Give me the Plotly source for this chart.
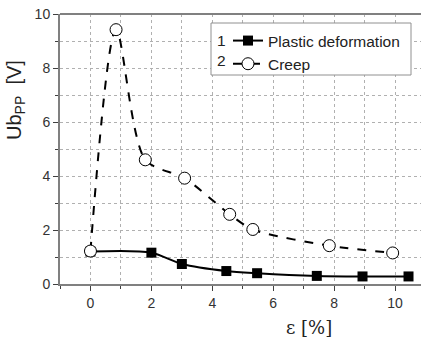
import plotly.graph_objects as go

# Data
plastic_x = [0, 2, 3, 4.46, 5.47, 7.43, 8.93, 10.44]
plastic_y = [1.2, 1.16, 0.74, 0.48, 0.4, 0.3, 0.28, 0.28]
creep_x = [0, 0.84, 1.8, 3.09, 4.57, 5.33, 7.84, 9.92]
creep_y = [1.22, 9.42, 4.6, 3.92, 2.58, 2.02, 1.42, 1.15]
x_ticks = [0, 2, 4, 6, 8, 10]
y_ticks = [0, 2, 4, 6, 8, 10]
legend_nums = ["1", "2"]

FONT = "Liberation Sans"
SERIF = "DejaVu Serif"
AX = "#808080"
GRID = "#b0b0b0"

L, T, B = 60, 14, 57
W, H = 421, 341
PW, PH = W - L, H - T - B


def px(xp):
    return (xp - L) / PW


def py(yp):
    return (H - B - yp) / PH


fig = go.Figure()
fig.add_trace(go.Scatter(
    x=plastic_x, y=plastic_y, mode="lines+markers", name="Plastic deformation",
    line=dict(color="black", width=2, shape="spline", smoothing=0.8),
    marker=dict(symbol="square", size=10, color="black"),
))
fig.add_trace(go.Scatter(
    x=creep_x, y=creep_y, mode="lines+markers", name="Creep",
    line=dict(color="black", width=2, dash="dash", shape="spline", smoothing=0.8),
    marker=dict(symbol="circle", size=12, color="white", line=dict(color="black", width=1)),
))

axis_common = dict(
    showline=True, linecolor=AX, linewidth=2, mirror=False,
    ticks="outside", ticklen=5, tickcolor="#404040", tickwidth=1,
    showgrid=True, gridcolor=GRID, griddash="dot", gridwidth=1,
    zeroline=False,
    tickfont=dict(family=FONT, size=14, color="#333333"),
)

fig.update_xaxes(
    range=[-1, 10.85], tickvals=x_ticks,
    minor=dict(dtick=1, tick0=0, ticks="outside", ticklen=3, tickcolor="#404040",
               showgrid=True, gridcolor=GRID, griddash="dot"),
    **axis_common,
)
fig.update_yaxes(
    range=[0, 10], tickvals=y_ticks,
    minor=dict(dtick=1, tick0=0, ticks="outside", ticklen=3, tickcolor="#404040",
               showgrid=True, gridcolor=GRID, griddash="dot"),
    **axis_common,
)

# axis titles
fig.add_annotation(text="Ub<sub>PP</sub>  [V]", xref="paper", yref="paper",
                   x=px(15), y=py(100), textangle=-90, showarrow=False,
                   xanchor="center", yanchor="middle",
                   font=dict(family=FONT, size=20, color="#222222"))
fig.add_annotation(text="ε [%]", xref="paper", yref="paper",
                   x=px(309), y=py(327), showarrow=False,
                   xanchor="center", yanchor="middle",
                   font=dict(family=SERIF, size=18, color="#222222"))

# top border
fig.add_shape(type="line", xref="paper", yref="paper", x0=0, x1=1, y0=1, y1=1,
              line=dict(color=AX, width=2))
# legend box
fig.add_shape(type="rect", xref="paper", yref="paper",
              x0=px(211), x1=px(411), y0=py(75), y1=py(23),
              line=dict(color="#909090", width=1), fillcolor="white", layer="above")
for i, n in enumerate(legend_nums):
    fig.add_annotation(text=n, xref="paper", yref="paper",
                       x=px(221), y=py(40 + 20 * i),
                       showarrow=False, xanchor="center", yanchor="middle",
                       font=dict(family=FONT, size=15.5, color="#222222"))

fig.update_layout(
    width=W, height=H,
    margin=dict(l=L, r=0, t=T, b=B),
    plot_bgcolor="white", paper_bgcolor="white",
    font=dict(family=FONT, size=14, color="#222222"),
    showlegend=True,
    legend=dict(x=px(228), y=py(24), xanchor="left", yanchor="top",
                bgcolor="rgba(0,0,0,0)", borderwidth=0, tracegroupgap=0,
                font=dict(family=FONT, size=15.5, color="#222222"), itemwidth=30),
)

fig.write_html("out.html")
